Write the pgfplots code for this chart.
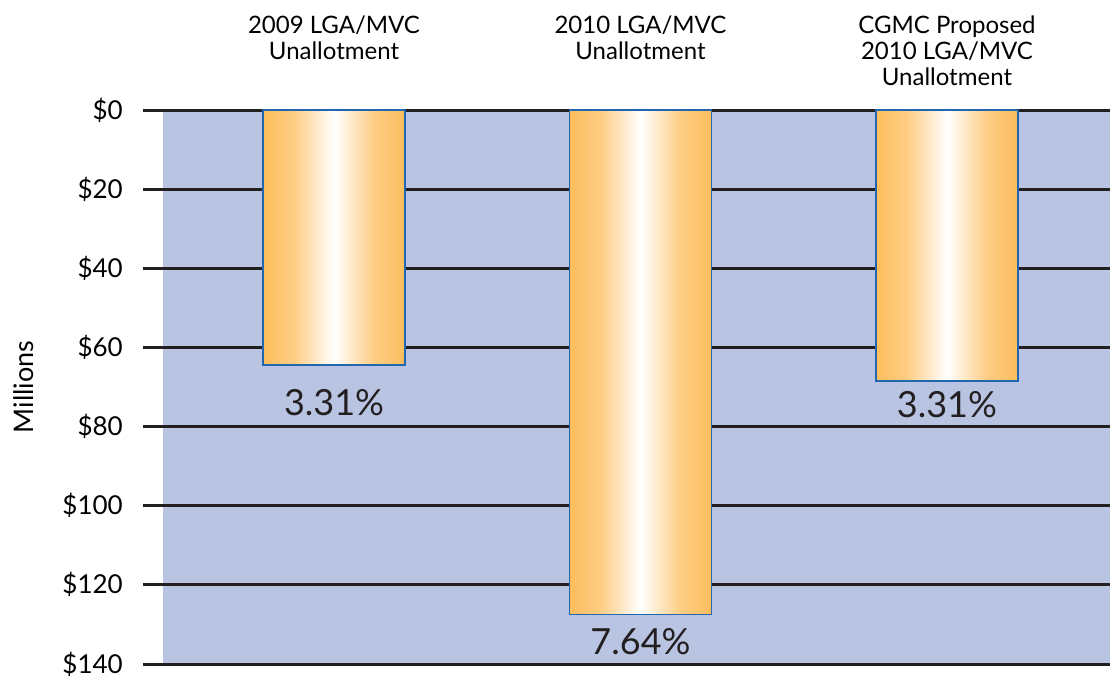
\documentclass[border=0pt]{standalone}
\usepackage{fontspec}
\setmainfont{Lato}
\usepackage{pgfplots}
\pgfplotsset{compat=1.18}
\definecolor{bgblue}{HTML}{B8C4E2}
\definecolor{barorange}{HTML}{FDBD5C}
\colorlet{barmid}{barorange!75!white}
\definecolor{barblue}{HTML}{2266B0}
\definecolor{gridblack}{HTML}{231F20}
\pgfdeclarehorizontalshading{barshade}{100bp}{color(0bp)=(barorange); color(25bp)=(barorange); color(36bp)=(barmid); color(50bp)=(white); color(64bp)=(barmid); color(75bp)=(barorange); color(100bp)=(barorange)}
\pgfplotsset{barstyle/.style={ybar, bar width=142pt, draw=barblue, line width=1.5pt, shading=barshade}}
\begin{document}
\begin{tikzpicture}
\useasboundingbox (0,0) rectangle (1110pt,675pt);
\begin{axis}[
  at={(163pt,11pt)}, anchor=south west,
  scale only axis, width=947pt, height=554pt,
  xmin=-0.558, xmax=2.532, ymin=0, ymax=140, y dir=reverse,
  axis background/.style={fill=bgblue},
  axis line style={draw=none},
  xtick={0,1,2},
  xticklabel pos=right,
  xticklabels={{2009 LGA/MVC\\Unallotment},{2010 LGA/MVC\\Unallotment},{CGMC Proposed\\2010 LGA/MVC\\Unallotment}},
  xtick style={draw=none},
  xticklabel style={align=center, anchor=north, inner sep=0pt, yshift=74pt, font=\fontsize{24}{26}\selectfont},
  ytick={0,20,40,60,80,100,120,140},
  yticklabels={\$0,\$20,\$40,\$60,\$80,\$100,\$120,\$140},
  yticklabel style={anchor=east, inner sep=0pt, xshift=-20pt, font=\fontsize{26}{30}\selectfont},
  ymajorgrids, grid style={gridblack, line width=3pt},
  ytick style={gridblack, line width=3pt},
  tick align=outside, major tick length=20pt,
  ylabel={Millions},
  every axis y label/.style={at={(axis description cs:0,0.5)}, xshift=-139pt, rotate=90, anchor=center, font=\fontsize{27}{30}\selectfont},
  clip=false,
]
\addplot[barstyle] coordinates {(0,64.5)};
\addplot[barstyle] coordinates {(1,127.5)};
\addplot[barstyle] coordinates {(2,68.5)};
\addplot[only marks, mark=none, nodes near coords, point meta=explicit symbolic,
  every node near coord/.append style={anchor=base, inner sep=0pt, text=gridblack, font=\fontsize{36}{40}\selectfont}]
  table[meta=label] {
x y label
0 77.1 3.31\%
1 137.7 7.64\%
2 77.6 3.31\%
};
\end{axis}
\end{tikzpicture}
\end{document}
